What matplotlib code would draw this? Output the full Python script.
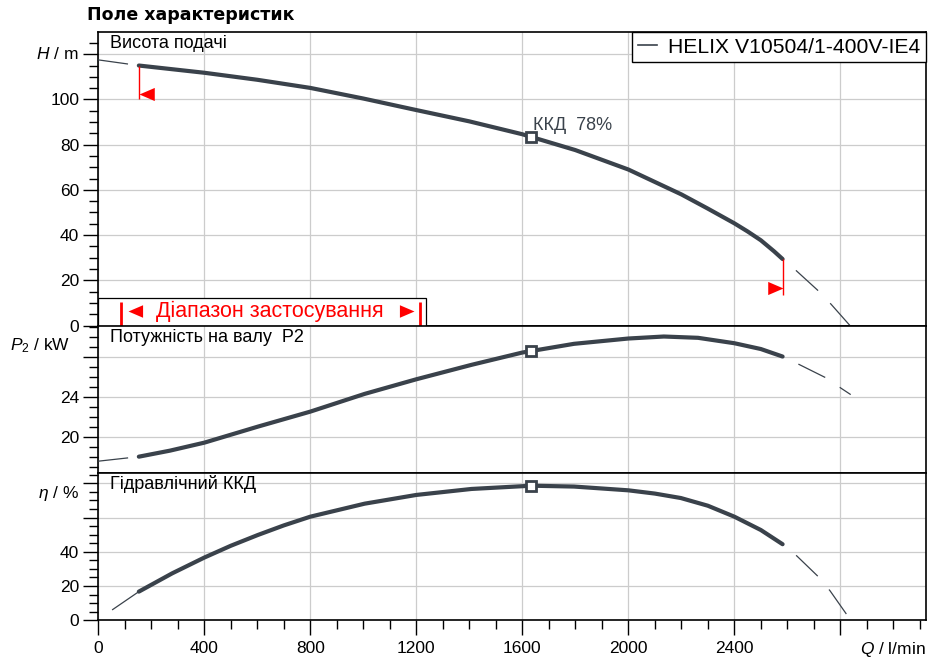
import matplotlib
matplotlib.use("Agg")
import matplotlib.pyplot as plt
from matplotlib.lines import Line2D
from matplotlib.patches import Rectangle
from matplotlib.ticker import MultipleLocator, FixedLocator, FixedFormatter
from matplotlib.transforms import blended_transform_factory

plt.rcParams['font.family'] = ['Liberation Sans', 'DejaVu Sans']
plt.rcParams['mathtext.fontset'] = 'custom'
plt.rcParams['mathtext.rm'] = 'Liberation Sans'
plt.rcParams['mathtext.it'] = 'Liberation Sans:italic'
plt.rcParams['lines.scale_dashes'] = False

# --- data ---
# Förderhöhe H
q_h = [153, 400, 600, 800, 1000, 1200, 1400, 1600, 1800, 2000, 2200, 2300, 2400, 2450, 2500, 2550, 2582]
h = [115.0, 111.8, 108.7, 105.1, 100.4, 95.3, 90.3, 84.6, 77.6, 69.0, 58.0, 51.7, 45.2, 41.6, 37.7, 32.8, 29.4]
q_h_left = [0, 153]
h_left = [117.5, 115.0]
q_h_right = [2582, 2635, 2720, 2765, 2836]
h_right = [29.4, 24.1, 15.0, 9.4, 0.0]

# Leistung P2
q_p = [153, 270, 400, 602, 800, 1005, 1200, 1408, 1600, 1795, 2000, 2134, 2263, 2400, 2500, 2582]
p2 = [18.0, 18.6, 19.4, 21.0, 22.5, 24.27, 25.73, 27.17, 28.4, 29.27, 29.8, 30.0, 29.87, 29.33, 28.75, 28.0]
q_p_left = [0, 153]
p2_left = [17.55, 18.0]
q_p_right = [2582, 2645, 2749, 2803, 2839]
p2_right = [28.0, 27.2, 25.83, 24.83, 24.2]

# Wirkungsgrad eta
q_e = [153, 279, 400, 500, 602, 700, 800, 1005, 1200, 1408, 1634, 1795, 2000, 2100, 2198, 2300, 2400, 2500, 2582]
eta = [16.7, 27.4, 36.6, 43.5, 49.8, 55.4, 60.5, 68.1, 73.2, 76.7, 78.6, 78.1, 75.9, 74.0, 71.4, 66.9, 60.5, 52.7, 44.4]
q_e_left = [54, 153]
eta_left = [6.2, 16.7]
q_e_right = [2582, 2636, 2717, 2761, 2839]
eta_right = [44.4, 37.5, 25.4, 17.2, 0.0]

# Betriebspunkt
q_op = 1634
h_op = 83.4
p2_op = 28.6
eta_op = 78.6

# Einsatzbereich
q_min, q_max = 153, 2582
range_bars = [86, 1214]

x_ticks = [0, 400, 800, 1200, 1600, 2000, 2400, 2800]
x_labels = ['0', '400', '800', '1200', '1600', '2000', '2400', '']

# --- plot ---
curve_col = '#3a424b'
grid_col = '#cccccc'
red = '#ff0000'
dash_style = (21.6, (21.6, 12.6))   # beginnt mit Luecke
dash_style_l = (0, (21.6, 7.5))
tri_left = [(0, 0), (1, -0.43), (1, 0.43), (0, 0)]
tri_right = [(0, 0), (-1, -0.43), (-1, 0.43), (0, 0)]

fig = plt.figure(figsize=(9.39, 6.65), dpi=100)
L = 98.3 / 939
W = (925.7 - 98.3) / 939
ax1 = fig.add_axes([L, 1 - 325.5 / 665, W, (325.5 - 32.3) / 665])
ax2 = fig.add_axes([L, 1 - 472.7 / 665, W, (472.7 - 325.5) / 665])
ax3 = fig.add_axes([L, 1 - 620.2 / 665, W, (620.2 - 472.7) / 665])

for ax in (ax1, ax2, ax3):
    ax.set_xlim(0, 3122)
    ax.xaxis.set_major_locator(FixedLocator(x_ticks))
    ax.xaxis.set_minor_locator(MultipleLocator(100))
    ax.set_axisbelow(True)
    ax.grid(True, which='major', color=grid_col, lw=0.9)
    for s in ax.spines.values():
        s.set_color('black')
        s.set_linewidth(1.2)
    ax.tick_params(axis='y', which='major', length=10.8, width=1.0, direction='out',
                   labelsize=12.5, pad=3)
    ax.tick_params(axis='y', which='minor', length=6.5, width=1.0, direction='out')
    ax.tick_params(axis='y', which='both', right=False)

for ax in (ax1, ax2):
    ax.tick_params(axis='x', which='both', length=0, labelbottom=False)

ax3.tick_params(axis='x', which='major', length=10.8, width=1.0, direction='out',
                labelsize=12.5, pad=4)
ax3.tick_params(axis='x', which='minor', length=6.5, width=1.0, direction='out')
ax3.xaxis.set_major_formatter(FixedFormatter(x_labels))

# y axes
ax1.set_ylim(0, 129.7)
ax1.yaxis.set_major_locator(FixedLocator([0, 20, 40, 60, 80, 100, 120]))
ax1.yaxis.set_major_formatter(FixedFormatter(['0', '20', '40', '60', '80', '100', '']))
ax1.yaxis.set_minor_locator(MultipleLocator(5))

ax2.set_ylim(16.4, 31.1)
ax2.yaxis.set_major_locator(FixedLocator([20, 24, 28]))
ax2.yaxis.set_major_formatter(FixedFormatter(['20', '24', '']))
ax2.yaxis.set_minor_locator(MultipleLocator(1))

ax3.set_ylim(0, 86.2)
ax3.yaxis.set_major_locator(FixedLocator([0, 20, 40, 60, 80]))
ax3.yaxis.set_major_formatter(FixedFormatter(['0', '20', '40', '', '']))
ax3.yaxis.set_minor_locator(MultipleLocator(5))

# Kurven
for ax, qs, ys, ql, yl, qr, yr, yop in [
        (ax1, q_h, h, q_h_left, h_left, q_h_right, h_right, h_op),
        (ax2, q_p, p2, q_p_left, p2_left, q_p_right, p2_right, p2_op),
        (ax3, q_e, eta, q_e_left, eta_left, q_e_right, eta_right, eta_op)]:
    ax.plot(qs, ys, color=curve_col, lw=3.0, solid_capstyle='round',
            solid_joinstyle='round', zorder=3)
    ax.plot(qr, yr, color=curve_col, lw=0.9, linestyle=dash_style, zorder=3)
    ax.plot(q_op, yop, marker='s', ms=7, mfc='white', mec=curve_col, mew=2.0, zorder=5)

ax1.plot(q_h_left, h_left, color=curve_col, lw=0.9, linestyle=dash_style_l, zorder=3)
ax2.plot(q_p_left, p2_left, color=curve_col, lw=0.9, linestyle=dash_style_l, zorder=3)
ax3.plot(q_e_left, eta_left, color=curve_col, lw=0.9, zorder=3)

# Einsatzgrenzen
ax1.vlines(q_min, 100, h[0], color=red, lw=1.0, zorder=4)
ax1.plot(q_min, 102.6, marker=tri_left, ms=22, color=red, mec='none', zorder=4)
ax1.vlines(q_max, 13.3, h[-1], color=red, lw=1.0, zorder=4)
ax1.plot(q_max, 16.5, marker=tri_right, ms=22, color=red, mec='none', zorder=4)

ax1.add_patch(Rectangle((0, 0), 1237, 12.3, facecolor='white', edgecolor='black',
                        lw=0.9, zorder=4))
ax1.vlines(range_bars, 0, 10.2, color=red, lw=2.0, zorder=5)
ax1.plot(113, 6.4, marker=tri_left, ms=21, color=red, mec='none', zorder=6)
ax1.plot(1192, 6.4, marker=tri_right, ms=21, color=red, mec='none', zorder=6)
ax1.text(649, 6.0, 'Діапазон застосування', color=red, fontsize=15.5,
         ha='center', va='center', zorder=6)

ax1.text(1639, 88.6, 'ККД  78%', color=curve_col, fontsize=13, ha='left', va='center', zorder=6)

# Panel-Beschriftungen
for ax, txt in [(ax1, 'Висота подачі'), (ax2, 'Потужність на валу  P2'), (ax3, 'Гідравлічний ККД')]:
    ax.annotate(txt, xy=(0, 1), xycoords='axes fraction', xytext=(8.5, -8.3),
                textcoords='offset points', ha='left', va='center', fontsize=13, zorder=6)

# Achsentitel
xl = -19.5 / 827.4
ax1.text(xl, 120, '$H$ / m', transform=blended_transform_factory(ax1.transAxes, ax1.transData),
         ha='right', va='center', fontsize=12.5)
ax2.text(-28.0 / 827.4, 29.07, '$P_2$ / kW', transform=blended_transform_factory(ax2.transAxes, ax2.transData),
         ha='right', va='center', fontsize=12.5)
ax3.text(xl, 73.8, r'$\eta$ / %', transform=blended_transform_factory(ax3.transAxes, ax3.transData),
         ha='right', va='center', fontsize=12.5)
ax3.annotate('$Q$ / l/min', xy=(1, 0), xycoords='axes fraction', xytext=(0, -14.5),
             textcoords='offset points', ha='right', va='top', fontsize=12.5)

# Legende
leg = ax1.legend(handles=[Line2D([], [], color=curve_col, lw=1.2)],
                 labels=['HELIX V10504/1-400V-IE4'], loc='upper right',
                 borderaxespad=0, fancybox=False, framealpha=1, edgecolor='black',
                 fontsize=15.2, handlelength=0.9, handletextpad=0.55, borderpad=0.25)
leg.get_frame().set_linewidth(1.0)
leg.set_zorder(10)

fig.text(87 / 939, 1 - 15 / 665, 'Поле характеристик', fontsize=12.5, weight='bold',
         family='DejaVu Sans', ha='left', va='center')

fig.savefig('out.png', dpi=100)
